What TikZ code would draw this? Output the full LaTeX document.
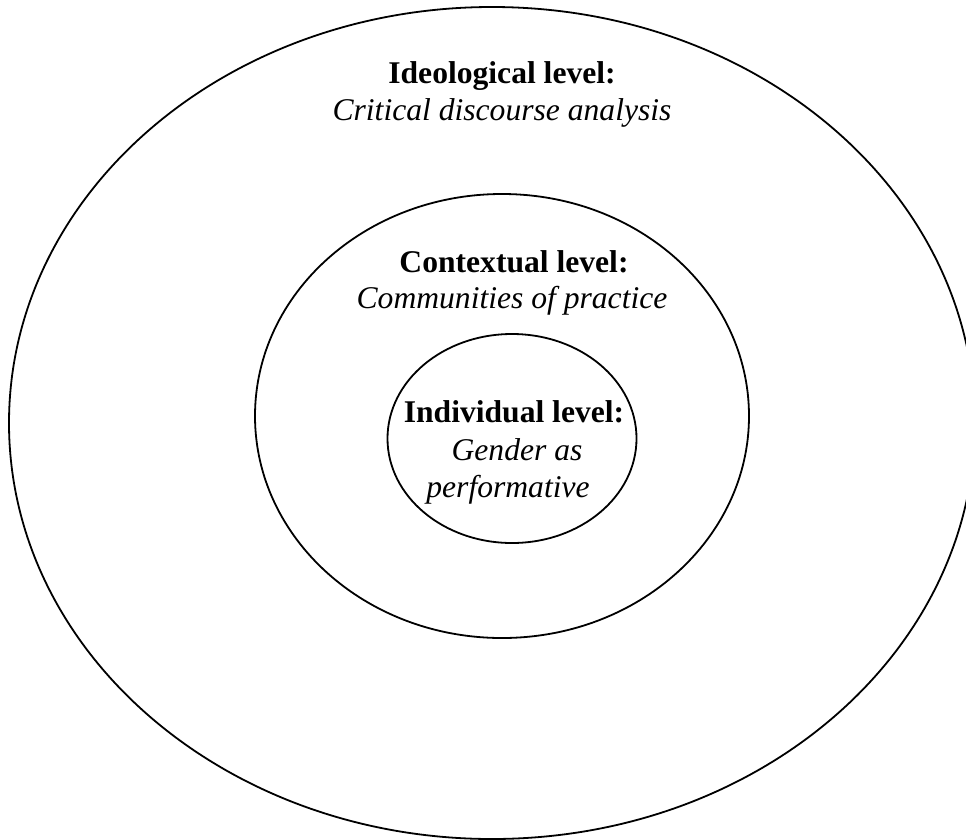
\documentclass[tikz,border=0pt]{standalone}
\usepackage{fontspec}
\setmainfont{Liberation Serif}
\usetikzlibrary{shapes.geometric}

\tikzset{
    ring/.style={draw, ellipse, line width=1.8pt, inner sep=0pt, outer sep=0pt},
    head/.style={anchor=base, inner sep=0pt, font=\fontsize{31.6}{37.5}\selectfont\bfseries},
    theory/.style={anchor=base, inner sep=0pt, font=\fontsize{31.6}{37.5}\selectfont\itshape}
}

\begin{document}
\begin{tikzpicture}[x=1pt, y=-1pt]
\useasboundingbox (0,0) rectangle (966,839);
\clip (0,0) rectangle (966,839);
% the three levels
\node[ring, minimum width=966pt, minimum height=832pt] (ideological) at (492,423) {};
\node[ring, minimum width=494pt, minimum height=444pt] (contextual) at (502,416) {};
\node[ring, minimum width=249pt, minimum height=209pt] (individual) at (512,438.5) {};

% labels
\node[head] (ideohead) at (502,83) {Ideological level:};
\node[theory] (ideotext) at (502,120) {Critical discourse analysis};
\node[head] (conthead) at (514,272) {Contextual level:};
\node[theory] (conttext) at (512,308) {Communities of practice};
\node[head] (indihead) at (514,422) {Individual level:};
\node[theory] (inditext) at (517,460) {Gender as};
\node[theory] (inditext2) at (508,497) {performative};
\end{tikzpicture}
\end{document}
